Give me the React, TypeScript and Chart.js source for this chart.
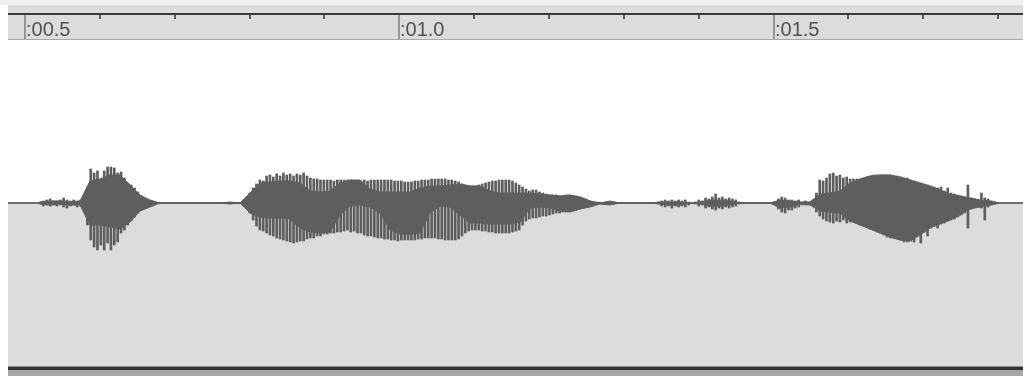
import React, { useEffect, useRef } from "react";
import { Chart, registerables } from "chart.js";

Chart.register(...registerables);

// ---- axis ranges (seconds / amplitude units) ----
const timeMin = 0.47729;
const timeMax = 1.83333;
const ampMin = -163;
const ampMax = 163;

// ---- time ruler ----
const rulerTicks = [0.5, 0.6, 0.7, 0.8, 0.9, 1.0, 1.1, 1.2, 1.3, 1.4, 1.5, 1.6, 1.7, 1.8];
const rulerMajor = [0.5, 1.0, 1.5];
const rulerLabels = [":00.5", ":01.0", ":01.5"];

// ---- solid waveform core (envelope sampled every coreStep seconds) ----
const coreStart = 0.52004;
const coreStep = 0.01336;
const coreTop = [
  1, 2, 2, 1, 2, 22, 24, 28, 28, 18,
  8, 3, 0, 0, 0, 0, 0, 0, 0, 1,
  0, 10, 20, 21, 22, 22, 20, 12, 11, 12,
  20, 23, 23, 14, 11, 11, 11, 11, 15, 17,
  17, 18, 19, 17, 17, 12, 10, 10, 10, 10,
  9, 8, 7, 8, 6, 2, 0, 2, 0, 0,
  0, 0, 1, 1, 1, 0, 1, 3, 3, 2,
  0, 0, 0, 0, 3, 2, 1, 1, 9, 10,
  12, 20, 24, 27, 28, 28, 26, 23, 20, 17,
  13, 9, 7, 5, 3, 2, 0,
];
const coreBottom = [
  -1, -2, -1, -2, -2, -22, -22, -24, -26, -19,
  -8, -4, 0, 0, 0, 0, 0, 0, 0, -1,
  0, -10, -14, -15, -15, -16, -25, -29, -30, -29,
  -12, -3, -2, -4, -10, -27, -31, -31, -30, -10,
  -3, -4, -12, -20, -20, -21, -21, -21, -19, -5,
  -4, -5, -8, -9, -6, -4, -1, -2, 0, 0,
  0, 0, -1, -2, -2, 0, -1, -3, -3, -2,
  0, 0, 0, 0, -5, -4, -1, -2, -8, -9,
  -10, -18, -22, -26, -30, -34, -37, -38, -32, -25,
  -21, -17, -12, -6, -4, -2, 0,
];

// ---- per-period peaks (one per sampleStep seconds) ----
const sampleStep = 0.0045;

const noise1Start = 0.52004;
const noise1Top = [1, 2, 3, 4, 2, 2, 3, 5, 3, 2, 3, 2, 3];
const noise1Bottom = [-1, -3, -2, -3, -2, -3, -2, -4, -5, -3, -2, -4, -3];

const burst1Start = 0.57882;
const burst1Top = [6, 16, 34, 30, 32, 21, 32, 36, 36, 35, 30, 31, 25, 20, 18, 15, 11, 7, 4, 3, 2];
const burst1Bottom = [-5, -22, -37, -44, -47, -42, -47, -40, -47, -42, -39, -30, -27, -22, -18, -14, -10, -7, -5, -4, -3];

const burst2Start = 0.79125;
const burst2Top = [
  2, 4, 10, 15, 19, 23, 22, 27, 28, 26,
  29, 27, 30, 28, 29, 27, 29, 28, 30, 27,
  25, 24, 24, 23, 23, 23, 23, 22, 23, 23,
  23, 23, 23, 22, 22, 22, 23, 22, 23, 23,
  23, 23, 23, 23, 23, 22, 22, 22, 21, 21,
  21, 22, 22, 23, 23, 23, 24, 24, 24, 24,
  24, 23, 23, 22, 21, 19, 18, 17, 17, 17,
  18, 19, 20, 21, 22, 22, 23, 23, 23, 23,
  22, 20, 18, 16, 14, 12, 13, 13, 11, 10,
  9, 8, 8, 8, 7, 7, 8, 8, 7, 7,
  6, 5, 4, 2, 1, 1,
];
const burst2Bottom = [
  -2, -5, -10, -17, -23, -27, -28, -30, -32, -33,
  -35, -36, -37, -38, -39, -40, -39, -38, -38, -36,
  -35, -35, -33, -33, -31, -31, -30, -30, -29, -29,
  -28, -27, -29, -28, -30, -30, -32, -33, -33, -34,
  -35, -35, -36, -36, -37, -37, -38, -37, -37, -37,
  -37, -37, -36, -36, -35, -35, -35, -35, -36, -36,
  -37, -37, -37, -37, -36, -33, -30, -28, -27, -27,
  -27, -28, -28, -29, -29, -30, -30, -30, -30, -30,
  -29, -28, -27, -22, -18, -16, -15, -15, -14, -13,
  -13, -12, -11, -10, -10, -9, -9, -8, -8, -7,
  -6, -5, -4, -3, -2, -1,
];

const noise2Start = 1.34168;
const noise2Top = [0, 1, 2, 3, 2, 3, 2, 3, 2, 3, 1, 0, 1, 3, 2, 5, 4, 6, 9, 5, 6, 4, 5, 4, 3, 1];
const noise2Bottom = [0, -1, -3, -4, -3, -5, -3, -4, -3, -4, -2, 0, -1, -3, -2, -5, -4, -6, -7, -5, -6, -4, -5, -4, -3, -1];

const noise3Start = 1.502;
const noise3Top = [1, 4, 6, 5, 3, 3, 2, 3, 1, 2, 1, 2];
const noise3Bottom = [-1, -6, -9, -10, -7, -7, -5, -4, -2, -2, -1, -2];

const burst3Start = 1.55277;
const burst3Top = [
  3, 10, 23, 22, 25, 29, 30, 27, 28, 25,
  26, 24, 24, 24, 24, 25, 26, 27, 28, 28,
  28, 28, 28, 28, 27, 27, 26, 25, 25, 23,
  22, 21, 20, 19, 18, 17, 16, 15, 16, 12,
  15, 10, 9, 8, 7, 6, 18, 5, 4, 3,
  10, 5, 4, 2, 1,
];
const burst3Bottom = [
  -3, -9, -13, -16, -18, -19, -20, -18, -19, -17,
  -20, -19, -19, -20, -22, -23, -24, -26, -27, -29,
  -30, -32, -34, -35, -35, -36, -37, -39, -39, -38,
  -39, -33, -40, -29, -33, -25, -23, -25, -21, -20,
  -18, -17, -16, -14, -12, -10, -25, -6, -4, -3,
  -5, -17, -4, -2, -1,
];

const WAVE = "#5e5e5e";

const toPoints = (start: number, step: number, vals: number[]) =>
  vals.map((v, i) => ({ x: start + i * step, y: v }));
const toBars = (start: number, step: number, top: number[], bottom: number[]) =>
  top.map((v, i) => ({ x: start + i * step, y: [bottom[i], v] }));

const backgroundPlugin = {
  id: "waveBackground",
  beforeDraw(chart: any) {
    const { ctx, chartArea: a, scales } = chart;
    const W = chart.width;
    ctx.save();
    ctx.fillStyle = "#ffffff";
    ctx.fillRect(0, 0, W, chart.height);
    ctx.fillStyle = "#efefef";
    ctx.fillRect(0, 0, W, 5);
    const zero = Math.round(scales.y.getPixelForValue(0));
    ctx.fillStyle = "#dcdcdc";
    ctx.fillRect(a.left, zero, a.right - a.left, a.bottom - zero);
    ctx.fillStyle = "#6e6e6e";
    ctx.fillRect(a.left, zero - 1, a.right - a.left, 2);
    ctx.restore();
  },
};

const rulerPlugin = {
  id: "timeRuler",
  afterDraw(chart: any) {
    const { ctx, chartArea: a, scales } = chart;
    const xs = scales.x;
    const L = a.left;
    const W = a.right - a.left;
    ctx.save();
    ctx.fillStyle = "#dcdcdc";
    ctx.fillRect(L, 5, W, 34);
    ctx.fillStyle = "#3a3a3a";
    ctx.fillRect(L, 13, W, 2);
    ctx.fillStyle = "#a8a8a8";
    ctx.fillRect(L, 39, W, 1);
    rulerTicks.forEach((v) => {
      const px = Math.round(xs.getPixelForValue(v));
      const isMajor = rulerMajor.some((m) => Math.abs(m - v) < 1e-6);
      if (isMajor) {
        ctx.fillStyle = "#959595";
        ctx.fillRect(px - 1, 15, 2, 24);
      } else {
        ctx.fillStyle = "#5a5a5a";
        ctx.fillRect(px - 1, 15, 2, 4);
      }
    });
    ctx.font = '20px "Liberation Sans", Arial, sans-serif';
    ctx.fillStyle = "#505050";
    ctx.textAlign = "left";
    ctx.textBaseline = "alphabetic";
    rulerMajor.forEach((v, i) => {
      const px = Math.round(xs.getPixelForValue(v));
      ctx.fillText(rulerLabels[i], px + 1, 36);
    });
    ctx.fillStyle = "#8a8a8a";
    ctx.fillRect(L, a.bottom, W, 1);
    ctx.fillStyle = "#333333";
    ctx.fillRect(L, a.bottom + 1, W, 3);
    ctx.fillStyle = "#a6a6a6";
    ctx.fillRect(L, a.bottom + 4, W, chart.height - a.bottom - 4);
    ctx.restore();
  },
};

export default function App() {
  const canvasRef = useRef<HTMLCanvasElement | null>(null);

  useEffect(() => {
    const canvas = canvasRef.current;
    if (!canvas) return;
    const peaks = [
      ...toBars(noise1Start, sampleStep, noise1Top, noise1Bottom),
      ...toBars(burst1Start, sampleStep, burst1Top, burst1Bottom),
      ...toBars(burst2Start, sampleStep, burst2Top, burst2Bottom),
      ...toBars(noise2Start, sampleStep, noise2Top, noise2Bottom),
      ...toBars(noise3Start, sampleStep, noise3Top, noise3Bottom),
      ...toBars(burst3Start, sampleStep, burst3Top, burst3Bottom),
    ];
    const chart = new Chart(canvas, {
      type: "bar",
      data: {
        datasets: [
          {
            type: "line",
            label: "core top",
            data: toPoints(coreStart, coreStep, coreTop),
            borderColor: WAVE,
            borderWidth: 1,
            pointRadius: 0,
            tension: 0,
            fill: false,
          } as any,
          {
            type: "line",
            label: "core bottom",
            data: toPoints(coreStart, coreStep, coreBottom),
            borderColor: WAVE,
            backgroundColor: WAVE,
            borderWidth: 1,
            pointRadius: 0,
            tension: 0,
            fill: "-1",
          } as any,
          {
            type: "bar",
            label: "peaks",
            data: peaks,
            backgroundColor: WAVE,
            borderWidth: 0,
            borderSkipped: false,
            barThickness: 2,
            grouped: false,
          } as any,
        ],
      },
      options: {
        responsive: false,
        animation: false,
        events: [],
        layout: { padding: { left: 8, top: 40, right: 0, bottom: 10 } },
        plugins: {
          legend: { display: false },
          tooltip: { enabled: false },
        },
        scales: {
          x: { type: "linear", display: false, min: timeMin, max: timeMax, offset: false },
          y: { type: "linear", display: false, min: ampMin, max: ampMax, beginAtZero: false },
        },
      } as any,
      plugins: [backgroundPlugin, rulerPlugin],
    });
    return () => chart.destroy();
  }, []);

  return (
    <div style={{ position: "absolute", left: 0, top: 0, width: 1023, height: 376 }}>
      <canvas ref={canvasRef} width={1023} height={376} style={{ display: "block" }} />
    </div>
  );
}
